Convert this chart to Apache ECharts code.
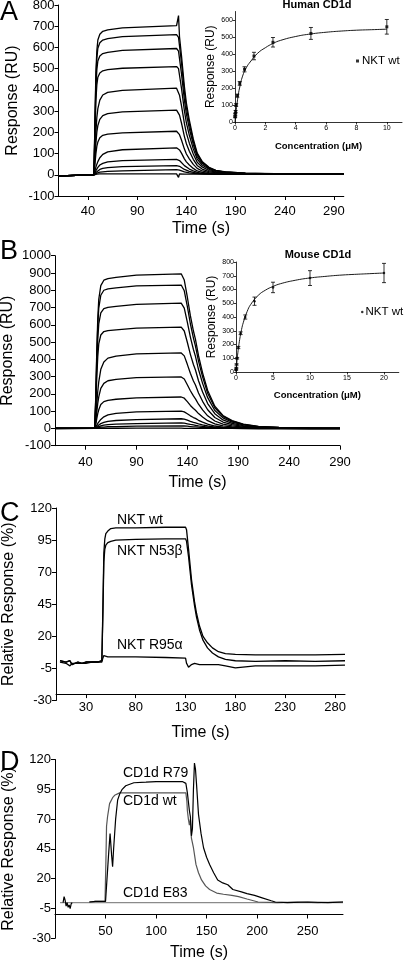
<!DOCTYPE html>
<html><head><meta charset="utf-8">
<script src="https://cdn.jsdelivr.net/npm/echarts@6/dist/echarts.min.js"></script>
<style>html,body{margin:0;padding:0;background:#fff}#c{width:404px;height:960px}</style>
</head><body><div id="c"></div>
<script>
// ---------- Panel A (Human CD1d sensorgrams) ----------
const tA = [10, 46, 47, 48, 49, 50, 52, 55, 60, 75, 130, 131, 132, 133, 135, 138, 140, 143, 147, 151, 156, 163, 170, 180, 200, 230, 260, 300];
const a1 = [-5, 0, 242, 483, 587, 635, 662, 676, 683, 692, 703, 705, 750, 650, 562, 415, 338, 257, 169, 102, 63, 35, 21, 14, 8, 5, 4, 3];
const a2 = [-5, 0, 227, 454, 551, 596, 622, 635, 642, 651, 660, 660, 647, 607, 528, 389, 317, 241, 158, 96, 59, 33, 20, 13, 8, 4, 3, 3];
const a3 = [-5, 0, 204, 408, 496, 536, 560, 571, 577, 586, 595, 595, 583, 547, 476, 351, 286, 217, 143, 86, 54, 30, 18, 12, 7, 4, 3, 3];
const a4 = [-5, 0, 175, 350, 425, 460, 480, 490, 495, 502, 510, 510, 500, 469, 408, 301, 245, 186, 122, 74, 46, 26, 15, 10, 6, 3, 3, 3];
const a5 = [-5, 0, 100, 200, 272, 312, 352, 376, 388, 398, 408, 408, 400, 375, 326, 241, 196, 149, 98, 59, 37, 20, 12, 8, 5, 3, 3, 3];
const a6 = [-5, 0, 74, 149, 202, 232, 261, 279, 288, 296, 305, 305, 299, 281, 244, 180, 146, 111, 73, 44, 27, 15, 9, 6, 4, 3, 3, 3];
const a7 = [-5, 0, 50, 99, 135, 154, 174, 186, 192, 197, 205, 205, 201, 189, 164, 121, 98, 75, 49, 30, 18, 10, 6, 4, 3, 3, 3, 3];
const a8 = [-5, 0, 18, 36, 50, 62, 80, 96, 108, 118, 127, 127, 124, 117, 102, 75, 61, 46, 30, 18, 11, 7, 5, 4, 3, 3, 3, 3];
const a9 = [-5, 0, 10, 20, 29, 35, 46, 54, 61, 67, 73, 73, 71, 67, 58, 43, 35, 27, 18, 11, 7, 5, 4, 3, 3, 3, 3, 3];
const a10 = [-5, 0, 6, 11, 16, 20, 25, 30, 34, 38, 43, 43, 42, 40, 34, 25, 21, 16, 11, 7, 5, 4, 3, 3, 3, 3, 3, 3];
const a11 = [-5, 0, 3, 5, 8, 9, 12, 14, 16, 18, 24, 24, 23, 22, 19, 14, 12, 9, 7, 5, 4, 3, 3, 3, 3, 3, 3, 3];
const a12 = [-5, 0, 2, 3, 3, 4, 4, 4, 4, 4, 4, 4, -12, 4, 3, 3, 3, 3, 3, 3, 3, 3, 3, 3, 3, 3, 3, 3];
const curvesA = [a1, a2, a3, a4, a5, a6, a7, a8, a9, a10, a11, a12];
const ticksTimeA = [40, 90, 140, 190, 240, 290];
const ticksRespA = [-100, 0, 100, 200, 300, 400, 500, 600, 700, 800];

// Inset A (Human CD1d equilibrium)
const concA = [0.0098, 0.0195, 0.039, 0.078, 0.156, 0.3125, 0.625, 1.25, 2.5, 5, 10];
const respA = [30, 45, 62, 100, 155, 227, 310, 388, 469, 521, 560];
const errA = [4, 5, 6, 8, 9, 11, 15, 22, 28, 35, 43];
const fitXA = [0, 0.05, 0.1, 0.2, 0.3, 0.5, 0.75, 1, 1.5, 2, 2.5, 3, 4, 5, 6, 7, 8, 9, 10];
const fitYA = [0, 50, 85, 150, 200, 270, 320, 353, 405, 437, 462, 480, 503, 518, 528, 535, 540, 543, 546];
const insetTicksXA = [0, 2, 4, 6, 8, 10];
const insetTicksYA = [0, 100, 200, 300, 400, 500, 600];

// ---------- Panel B (Mouse CD1d sensorgrams) ----------
const tB = [10, 49, 50, 51, 52, 53, 55, 58, 62, 70, 90, 134, 135, 137, 140, 143, 146, 148, 151, 155, 160, 167, 175, 184, 195, 210, 230, 260, 290];
const b1 = [0, 0, 176, 440, 634, 748, 827, 858, 867, 874, 888, 895, 905, 859, 761, 653, 564, 515, 421, 322, 220, 129, 75, 45, 25, 12, 6, 2, 0];
const b2 = [0, 0, 164, 410, 590, 697, 771, 800, 808, 814, 825, 830, 830, 797, 706, 606, 523, 477, 390, 299, 204, 120, 70, 42, 23, 11, 6, 2, 0];
const b3 = [0, 0, 142, 356, 513, 605, 669, 694, 701, 707, 718, 725, 725, 696, 616, 529, 457, 417, 341, 261, 178, 104, 61, 36, 20, 9, 5, 1, 0];
const b4 = [0, 0, 115, 288, 414, 489, 541, 561, 566, 571, 581, 587, 587, 564, 499, 429, 370, 338, 276, 211, 144, 85, 49, 29, 16, 8, 4, 1, 0];
const b5 = [0, 0, 51, 137, 214, 270, 342, 385, 407, 419, 432, 437, 437, 420, 371, 319, 275, 251, 205, 157, 108, 63, 37, 22, 12, 6, 3, 1, 0];
const b6 = [0, 0, 35, 93, 145, 183, 232, 261, 276, 284, 294, 298, 298, 286, 253, 218, 188, 171, 140, 107, 73, 43, 25, 15, 8, 4, 2, 1, 0];
const b7 = [0, 0, 21, 55, 86, 108, 138, 155, 163, 169, 177, 182, 182, 175, 155, 133, 115, 105, 86, 66, 45, 26, 15, 9, 5, 2, 1, 0, 0];
const b8 = [0, 0, 6, 17, 29, 38, 52, 67, 78, 87, 96, 100, 100, 96, 85, 73, 63, 58, 47, 36, 25, 14, 8, 5, 3, 1, 1, 0, 0];
const b9 = [0, 0, 3, 9, 15, 20, 28, 35, 41, 46, 51, 56, 56, 54, 48, 41, 35, 32, 26, 20, 14, 8, 5, 3, 2, 1, 0, 0, 0];
const b10 = [0, 0, 2, 5, 8, 11, 15, 19, 22, 25, 28, 32, 32, 31, 27, 23, 20, 18, 15, 12, 8, 5, 3, 2, 1, 0, 0, 0, 0];
const b11 = [0, 0, 1, 2, 4, 5, 7, 8, 10, 11, 13, 15, 15, 14, 13, 11, 9, 9, 7, 5, 4, 2, 1, 1, 0, 0, 0, 0, 0];
const b12 = [-3, 0, 1, 1, 1, 1, 1, 1, 1, 1, 2, 2, -8, 0, 0, 0, 0, 0, 0, 0, 0, 0, 0, 0, -1, -2, -3, -4, -4];
const curvesB = [b1, b2, b3, b4, b5, b6, b7, b8, b9, b10, b11, b12];
const ticksTimeB = [40, 90, 140, 190, 240, 290];
const ticksRespB = [-100, 0, 100, 200, 300, 400, 500, 600, 700, 800, 900, 1000];

// Inset B (Mouse CD1d equilibrium)
const concB = [0.0195, 0.039, 0.078, 0.156, 0.3125, 0.625, 1.25, 2.5, 5, 10, 20];
const respB = [15, 30, 55, 100, 178, 282, 400, 515, 615, 683, 720];
const errB = [3, 4, 5, 6, 8, 10, 15, 30, 38, 54, 70];
const fitXB = [0, 0.1, 0.25, 0.5, 0.75, 1, 1.5, 2, 3, 4, 5, 6, 8, 10, 12, 14, 16, 18, 20];
const fitYB = [0, 64, 140, 237, 309, 362, 439, 492, 557, 596, 622, 642, 667, 684, 695, 704, 710, 715, 720];
const insetTicksXB = [0, 5, 10, 15, 20];
const insetTicksYB = [0, 100, 200, 300, 400, 500, 600, 700, 800];

// ---------- Panel C (NKT mutants, relative response) ----------
const tC = [4, 10, 14, 16, 18, 22, 26, 30, 36, 42, 46, 47, 48, 49, 50, 52, 55, 60, 80, 110, 130, 131, 133, 136, 139, 141, 144, 147.5, 152, 157, 163, 170, 180, 200, 230, 260, 290];
const cWt = [1, 0, 1, -2, -1, 0, -1, 0, 0, 0, 1, 40, 85, 96, 100, 102, 104, 104.5, 104.5, 105, 105, 103, 88, 64, 47, 38, 28, 20, 15, 11, 8, 6.5, 6, 5.5, 5.5, 5.5, 6];
const cN53 = [1, 0, 1, -2, -1, 0, -1, 0, 0, 0, 1, 35, 78, 88, 91, 93, 94, 95, 95.5, 96, 96, 94, 82, 60, 44, 35, 25, 17, 11, 7, 4, 2, 1, 0.5, 1, 0.5, 1];
const cR95 = [0, -1, -3, -1, -2, -1, -1, -1, 0, 0, 0, 3, 5, 6, 4.5, 4, 4, 4, 4, 3.5, 3, -1, -4, -2, -1, -1, -2, -2, -2, -2, -2, -3, -4.5, -3, -3, -3, -2.5];
const ticksTimeC = [30, 80, 130, 180, 230, 280];
const ticksRel = [-30, -5, 20, 45, 70, 95, 120];

// ---------- Panel D (CD1d mutants, relative response) ----------
const tDwt = [34, 40, 45, 49.5, 50.5, 51, 52, 54, 57, 59, 64, 80, 100, 129.5, 130.5, 131, 132, 133, 134, 135, 137, 139.5, 142, 145, 149, 153, 160, 166.7, 175, 181.7, 190, 201, 220, 240, 260, 285];
const dWt = [0.5, 1, 1, 1, 40, 64, 72, 83, 88, 90, 92, 92, 92, 92, 85, 77, 70, 65, 70, 54, 46, 32, 25, 19, 14, 11, 8, 7, 6, 5, 3, 0.5, 0, 0.5, 0, 0.5];
const tDr79 = [8, 9, 10, 11, 12, 13, 14, 15, 16, 17, 18, 34, 40, 45, 50, 51, 53, 54.5, 56, 57, 58, 60, 62, 64, 66.5, 70, 78, 90, 100, 126, 129.5, 131, 133, 134, 135, 136, 137, 138, 139, 140, 142, 144.5, 147, 150, 153, 157, 161, 166, 171, 176, 184.5, 190, 197.5, 205, 214, 218, 230, 250, 270, 285];
const dR79 = [0, 5, 2, -3, 0, -4, -2, -5, -1, 0, '-', 0.5, 1, 1, 1, 2, 40, 58, 40, 30, 45, 70, 86, 91, 95, 98, 100.5, 101, 101.5, 101.5, 100, 92, 77, 72, 56, 62, 95, 117, 112, 100, 74, 58, 46, 38, 32, 25, 19, 16.5, 15, 11, 9, 7.5, 6, 4, 1.5, 0.5, 0, 0.5, 0, 0.5];
const tDe83 = [5, 285];
const dE83 = [0, 0];
const ticksTimeD = [50, 100, 150, 200, 250];

// ---------- build ----------
const F = '"Liberation Sans", Arial, Helvetica, sans-serif';
const pairs = (t, v) => t.map((x, i) => [x, v[i]]);
const triples = (a, b, c) => a.map((x, i) => [x, b[i], c[i]]);
const plain = v => String(v);

function timeAxis(gi, min, max, ticks, gap, margin) {
  return {
    type: 'value', gridIndex: gi, min: min, max: max,
    name: 'Time (s)', nameLocation: 'middle', nameGap: gap, nameMoveOverlap: false,
    nameTextStyle: { fontSize: 16, color: '#000', fontFamily: F },
    axisLine: { show: true, onZero: false, lineStyle: { color: '#000', width: 1 } },
    axisTick: { show: true, length: 4, lineStyle: { color: '#000', width: 1 }, customValues: ticks },
    axisLabel: { show: true, fontSize: 13, color: '#000', fontFamily: F, margin: margin, customValues: ticks, formatter: plain },
    splitLine: { show: false }
  };
}
function respAxis(gi, min, max, ticks, name, gap) {
  return {
    type: 'value', gridIndex: gi, min: min, max: max,
    name: name, nameLocation: 'middle', nameGap: gap, nameRotate: 90, nameMoveOverlap: false,
    nameTextStyle: { fontSize: 16, color: '#000', fontFamily: F },
    axisLine: { show: true, onZero: false, lineStyle: { color: '#000', width: 1 } },
    axisTick: { show: true, length: 4, lineStyle: { color: '#000', width: 1 }, customValues: ticks },
    axisLabel: { show: true, fontSize: 13, color: '#000', fontFamily: F, margin: 4, customValues: ticks, formatter: plain },
    splitLine: { show: false }
  };
}
function insetX(gi, max, ticks, gap) {
  return {
    type: 'value', gridIndex: gi, min: 0, max: max,
    name: 'Concentration (\u03bcM)', nameLocation: 'middle', nameGap: gap, nameMoveOverlap: false,
    nameTextStyle: { fontSize: 9.5, fontWeight: 'bold', color: '#000', fontFamily: F },
    axisLine: { show: true, onZero: false, lineStyle: { color: '#000', width: 0.8 } },
    axisTick: { show: true, length: 2.5, lineStyle: { color: '#000', width: 0.8 }, customValues: ticks },
    axisLabel: { show: true, fontSize: 7, color: '#000', fontFamily: F, margin: 3, customValues: ticks, formatter: plain },
    splitLine: { show: false }
  };
}
function insetY(gi, max, ticks) {
  return {
    type: 'value', gridIndex: gi, min: 0, max: max,
    name: 'Response (RU)', nameLocation: 'middle', nameGap: 18, nameRotate: 90, nameMoveOverlap: false,
    nameTextStyle: { fontSize: 12, color: '#000', fontFamily: F },
    axisLine: { show: true, onZero: false, lineStyle: { color: '#000', width: 0.8 } },
    axisTick: { show: true, length: 2.5, lineStyle: { color: '#000', width: 0.8 }, customValues: ticks },
    axisLabel: { show: true, fontSize: 7, color: '#000', fontFamily: F, margin: 2, customValues: ticks, formatter: plain },
    splitLine: { show: false }
  };
}
const hidden = (gi, min, max) => ({ type: 'value', gridIndex: gi, min: min, max: max, show: false });

const grid = [
  { left: 58.5, top: 5, width: 285.3, height: 191 },      // 0 A main
  { left: 235, top: 11.5, width: 167, height: 110.5 },    // 1 A inset
  { left: 55, top: 255.7, width: 285, height: 190 },      // 2 B main
  { left: 236, top: 262, width: 162.8, height: 110 },     // 3 B inset
  { left: 56, top: 508, width: 289, height: 186.1 },      // 4 C data
  { left: 56, top: 508, width: 289, height: 192.5 },      // 5 C y display
  { left: 55, top: 759.5, width: 288, height: 155 },      // 6 D data
  { left: 55, top: 759.5, width: 288, height: 178.8 }     // 7 D y display
].map(g => Object.assign({ outerBoundsMode: 'none', containLabel: false }, g));

const xAxis = [
  timeAxis(0, 10, 300, ticksTimeA, 25, 9),
  insetX(1, 11, insetTicksXA, 19),
  timeAxis(2, 10, 290, ticksTimeB, 29, 10),
  insetX(3, 22, insetTicksXB, 18),
  timeAxis(4, 0, 290, ticksTimeC, 30, 7),
  hidden(5, 0, 290),
  timeAxis(6, 0, 285, ticksTimeD, 30, 10),
  hidden(7, 0, 285)
];
const yAxis = [
  respAxis(0, -100, 800, ticksRespA, 'Response (RU)', 38),
  insetY(1, 650, insetTicksYA),
  respAxis(2, -100, 1000, ticksRespB, 'Response (RU)', 39),
  insetY(3, 800, insetTicksYB),
  hidden(4, -25, 120),
  respAxis(5, -30, 120, ticksRel, 'Relative Response (%)', 39),
  hidden(6, -10, 120),
  respAxis(7, -30, 120, ticksRel, 'Relative Response (%)', 38)
];

const series = [];
function addLine(ai, data, color, width) {
  series.push({
    type: 'line', xAxisIndex: ai, yAxisIndex: ai, data: data,
    symbol: 'none', showSymbol: false, silent: true, connectNulls: false,
    lineStyle: { color: color || '#000', width: width || 1.3 }, z: 2
  });
}
curvesA.forEach(c => addLine(0, pairs(tA, c)));
curvesB.forEach(c => addLine(2, pairs(tB, c)));
addLine(4, pairs(tC, cWt));
addLine(4, pairs(tC, cN53));
addLine(4, pairs(tC, cR95));
addLine(6, pairs(tDe83, dE83), '#8a8a8a', 1.2);
addLine(6, pairs(tDwt, dWt), '#555', 1.2);
addLine(6, pairs(tDr79, dR79), '#000', 1.2);

function errRender(params, api) {
  const x = api.value(0), y = api.value(1), e = api.value(2);
  const p1 = api.coord([x, y + e]), p2 = api.coord([x, y - e]);
  const w = 2;
  const st = { stroke: '#000', lineWidth: 0.8 };
  return { type: 'group', children: [
    { type: 'line', shape: { x1: p1[0], y1: p1[1], x2: p2[0], y2: p2[1] }, style: st },
    { type: 'line', shape: { x1: p1[0] - w, y1: p1[1], x2: p1[0] + w, y2: p1[1] }, style: st },
    { type: 'line', shape: { x1: p2[0] - w, y1: p2[1], x2: p2[0] + w, y2: p2[1] }, style: st }
  ]};
}
function addInset(ai, cx, cy, ce, fx, fy, sym, ssize) {
  series.push({ type: 'line', xAxisIndex: ai, yAxisIndex: ai, data: pairs(fx, fy), smooth: true,
    symbol: 'none', showSymbol: false, silent: true, lineStyle: { color: '#000', width: 0.9 } });
  series.push({ type: 'custom', xAxisIndex: ai, yAxisIndex: ai, data: triples(cx, cy, ce),
    renderItem: errRender, encode: { x: 0, y: 1 }, silent: true });
  series.push({ type: 'scatter', name: 'NKT wt', xAxisIndex: ai, yAxisIndex: ai, data: pairs(cx, cy),
    symbol: sym, symbolSize: ssize, itemStyle: { color: '#000' }, silent: true, z: 5 });
}
addInset(1, concA, respA, errA, fitXA, fitYA, 'rect', 3);
addInset(3, concB, respB, errB, fitXB, fitYB, 'circle', 2.5);

const legend = [
  { left: 356, top: 55, padding: 0, data: [{ name: 'NKT wt', icon: 'rect' }], itemWidth: 3, itemHeight: 3, selectedMode: false,
    textStyle: { fontSize: 11.5, color: '#000', fontFamily: F, padding: [0, 0, 0, -2] } },
  { left: 361, top: 306, padding: 0, data: [{ name: 'NKT wt', icon: 'circle' }], itemWidth: 2.5, itemHeight: 2.5, selectedMode: false,
    textStyle: { fontSize: 11.5, color: '#000', fontFamily: F, padding: [0, 0, 0, -3] } }
];

function txt(text, x, y, size, opts) {
  return { type: 'text', x: x, y: y, silent: true,
    style: { text: text, font: (opts && opts.bold ? 'bold ' : '') + size + 'px ' + F, fill: '#000',
      verticalAlign: 'middle', align: (opts && opts.align) || 'left' } };
}
const graphic = [
  txt('A', 0, 13, 27),
  txt('B', 0, 252, 27),
  txt('C', 0, 514, 27),
  txt('D', 0, 763, 27),
  txt('Human CD1d', 317, 5, 11, { bold: true, align: 'center' }),
  txt('Mouse CD1d', 318, 255, 11, { bold: true, align: 'center' }),
  txt('NKT wt', 117, 520, 14),
  txt('NKT N53\u03b2', 117, 551, 14),
  txt('NKT R95\u03b1', 117, 645, 14),
  txt('CD1d R79', 123, 773, 14),
  txt('CD1d wt', 123, 801, 14),
  txt('CD1d E83', 123, 893, 14)
];

const chart = echarts.init(document.getElementById('c'), null, { renderer: 'canvas' });
chart.setOption({
  backgroundColor: '#fff',
  animation: false,
  textStyle: { fontFamily: F },
  grid: grid, xAxis: xAxis, yAxis: yAxis, series: series, legend: legend, graphic: graphic
});
</script></body></html>
